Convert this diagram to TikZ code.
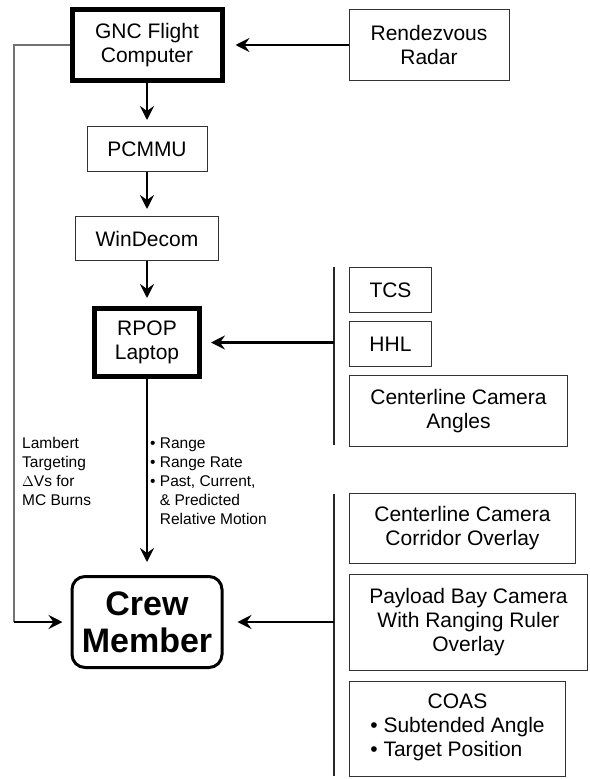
\documentclass[tikz,border=0pt]{standalone}
\usepackage{fontspec}
\setmainfont{Liberation Sans}
\usetikzlibrary{arrows.meta, positioning}

\begin{document}
\begin{tikzpicture}[x=1pt, y=-1pt, node distance=8pt]
    \tikzstyle{unit} = [rectangle, draw=black!80, line width=1pt, align=center, inner sep=2pt, font=\fontsize{21}{24}\selectfont]
    \tikzstyle{major} = [unit, draw=black, line width=5pt]
    \tikzstyle{crewbox} = [rectangle, draw, line width=3pt, rounded corners=13pt, align=center, font=\fontsize{34}{37}\selectfont\bfseries]
    \tikzstyle{feed} = [unit, anchor=north west]
    \tikzstyle{line} = [draw, line width=2.5pt, -{Stealth[length=14pt, width=14pt, inset=5pt]}, shorten >=8pt]
    \tikzstyle{bus} = [draw, line width=1.5pt, black!85]
    \tikzstyle{note} = [anchor=west, align=left, inner sep=0pt, font=\fontsize{15.5}{19}\selectfont]

    \useasboundingbox (0,0) rectangle (589,779);

    % main chain
    \node [major, minimum width=150pt, minimum height=71pt] (gnc) at (147,45) {GNC Flight\\Computer};
    \node [unit, minimum width=160pt, minimum height=71pt, right=124pt of gnc] (radar) {Rendezvous\\Radar};
    \node [unit, minimum width=120pt, minimum height=45pt, below=43pt of gnc] (pcmmu) {PCMMU};
    \node [unit, minimum width=143pt, minimum height=44pt, below=44pt of pcmmu] (windecom) {WinDecom};
    \node [major, minimum width=105pt, minimum height=68pt, below=45pt of windecom] (rpop) {RPOP\\Laptop};
    \node [crewbox, minimum width=150pt, minimum height=91pt, below=196pt of rpop] (crew) {Crew\\Member};

    % sensor inputs to the laptop
    \node [feed, minimum width=82pt, minimum height=45pt] (tcs) at (349,267) {TCS};
    \node [feed, minimum width=82pt, minimum height=45pt, below=8pt of tcs.south west, anchor=north west] (hhl) {HHL};
    \node [feed, minimum width=218pt, minimum height=71pt, below=8pt of hhl.south west, anchor=north west] (cca) {Centerline Camera\\Angles};

    % visual cues for the crew
    \node [feed, minimum width=226pt, minimum height=70pt] (cco) at (349,493) {Centerline Camera\\Corridor Overlay};
    \node [feed, minimum width=238pt, minimum height=96pt, below=10pt of cco.south west, anchor=north west] (payload) {Payload Bay Camera\\With Ranging Ruler\\Overlay};
    \node [feed, minimum width=216pt, minimum height=95pt, below=10pt of payload.south west, anchor=north west] (coas) {COAS\\\begin{tabular}[t]{@{}l@{}}\textbullet\ Subtended Angle\\\textbullet\ Target Position\end{tabular}};

    \coordinate (busup) at (334,267);
    \coordinate (busupend) at (334,445);
    \coordinate (buslow) at (334,494);
    \coordinate (buslowend) at (334,776);
    \coordinate (lamtop) at (14,45);
    \coordinate (lambot) at (14,622);

    % labels
    \node [note] (lambert) at (22,471) {Lambert\\Targeting\\$\Delta$Vs for\\MC Burns};
    \node [note] (motion) at (150,481) {\textbullet\ Range\\\textbullet\ Range Rate\\\textbullet\ Past, Current,\\\phantom{\textbullet\ }\& Predicted\\\phantom{\textbullet\ }Relative Motion};

    \path [line, shorten >=11pt] (radar.west) -- (gnc.east);
    \path [line, shorten >=6pt] (gnc) -- (pcmmu);
    \path [line, shorten >=7pt] (pcmmu) -- (windecom);
    \path [line] (windecom) -- (rpop);
    \path [line, shorten >=13pt] (rpop) -- (crew);
    \path [bus] (busup) -- (busupend);
    \path [bus] (buslow) -- (buslowend);
    \path [line, shorten >=9pt] (busup |- rpop.east) -- (rpop.east);
    \path [line, shorten >=14pt] (buslow |- crew.east) -- (crew.east);
    \path [bus, black!55, line width=1.8pt] (gnc.west) -- (lamtop) -- (lambot);
    \path [line] (lambot) -- (crew.west);
\end{tikzpicture}
\end{document}
